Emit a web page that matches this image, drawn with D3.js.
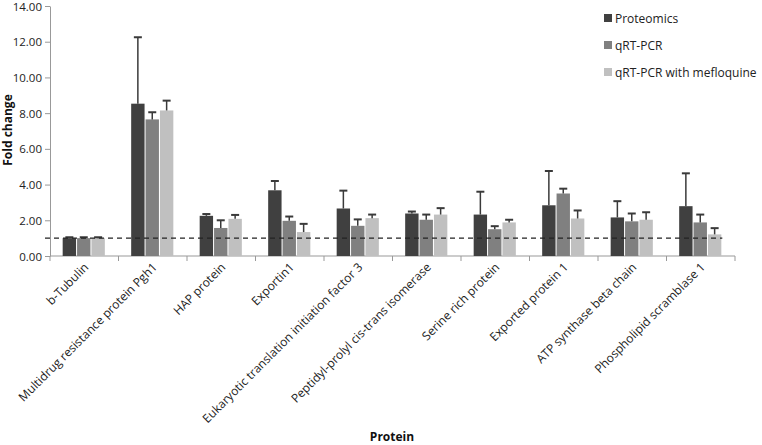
<!DOCTYPE html>
<html><head><meta charset="utf-8">
<script src="https://cdn.jsdelivr.net/npm/d3@7"></script>
<style>body{margin:0;background:#fff}svg{display:block}text{font-family:"Open Sans",sans-serif}</style>
</head><body><svg id="c" width="762" height="445"></svg>
<script>
const categories = ["b-Tubulin","Multidrug resistance protein Pgh1","HAP protein","Exportin1","Eukaryotic translation initiation factor 3","Peptidyl-prolyl cis-trans isomerase","Serine rich protein","Exported protein 1","ATP synthase beta chain","Phospholipid scramblase 1"];
const seriesNames = ["Proteomics","qRT-PCR","qRT-PCR with mefloquine"];
const proteomics = [1.00,8.53,2.25,3.68,2.66,2.38,2.32,2.84,2.16,2.79];
const proteomicsErr = [0.05,3.72,0.10,0.52,1.00,0.11,1.28,1.92,0.91,1.84];
const qrtpcr = [1.00,7.65,1.57,1.97,1.69,2.03,1.50,3.50,1.94,1.88];
const qrtpcrErr = [0.05,0.40,0.43,0.24,0.36,0.29,0.17,0.27,0.44,0.44];
const mefloquine = [1.00,8.15,2.08,1.34,2.12,2.32,1.88,2.10,2.03,1.21];
const mefloquineErr = [0.05,0.55,0.22,0.46,0.20,0.36,0.15,0.45,0.42,0.35];
const yTicks = [0,2,4,6,8,10,12,14];
const colors = ["#404040","#808080","#c0c0c0"];

const svg = d3.select("#c");
const x0 = 50, x1 = 735, yb = 256, yt = 6;
const x = d3.scaleBand().domain(categories).range([x0,x1]).paddingInner(0.37).paddingOuter(0.185);
const xs = d3.scaleBand().domain(seriesNames).range([0,x.bandwidth()]);
const y = d3.scaleLinear().domain([0,14]).range([yb,yt]);
const vals = [proteomics,qrtpcr,mefloquine], errs=[proteomicsErr,qrtpcrErr,mefloquineErr];

// axes
const ya = svg.append("g").attr("transform",`translate(${x0},0)`)
  .call(d3.axisLeft(y).tickValues(yTicks).tickFormat(d3.format(".2f")).tickSize(5).tickSizeOuter(0));
ya.select(".domain").attr("stroke","#999");
ya.selectAll(".tick line").attr("stroke","#999");
ya.selectAll(".tick text").attr("font-size","11.5px").attr("fill","#222").attr("x",-8).attr("dy","0.36em");

const xb = d3.scalePoint().domain(d3.range(categories.length+1)).range([x0,x1]);
const xa = svg.append("g").attr("transform",`translate(0,${yb})`);
xa.append("line").attr("x1",x0).attr("x2",x1).attr("stroke","#999");
xa.selectAll("line.t").data(d3.range(categories.length+1)).join("line").attr("class","t")
  .attr("x1",d=>xb(d)).attr("x2",d=>xb(d)).attr("y1",0).attr("y2",5).attr("stroke","#999");

// bars
const g = svg.append("g");
seriesNames.forEach((s,si)=>{
  categories.forEach((c,ci)=>{
    const bx = x(c)+xs(s), w = xs.bandwidth();
    const v = vals[si][ci], e = errs[si][ci];
    g.append("rect").attr("x",bx).attr("y",y(v)).attr("width",w-1).attr("height",yb-y(v)).attr("fill",colors[si]);
    const cx = bx + (w-1)/2;
    g.append("line").attr("x1",cx).attr("x2",cx).attr("y1",y(v)).attr("y2",y(v+e)).attr("stroke","#3a3a3a").attr("stroke-width",1.5);
    g.append("line").attr("x1",cx-4).attr("x2",cx+4).attr("y1",y(v+e)).attr("y2",y(v+e)).attr("stroke","#3a3a3a").attr("stroke-width",2);
  });
});

// dashed reference line at 1
const lastC = categories[categories.length-1];
svg.append("line").attr("x1",x0-5).attr("x2",x(lastC)+x.bandwidth()).attr("y1",y(1)).attr("y2",y(1))
  .attr("stroke","#222").attr("stroke-width",1.3).attr("stroke-dasharray","5,4");

// category labels
svg.append("g").selectAll("text").data(categories).join("text")
  .attr("transform",d=>`translate(${x(d)+x.bandwidth()/2+5},${yb+12}) rotate(-45)`)
  .attr("text-anchor","end").attr("font-size","12px").attr("fill","#222").text(d=>d);

// axis titles
svg.append("text").attr("transform",`translate(12,130) rotate(-90)`).attr("text-anchor","middle")
  .attr("font-size","12px").attr("font-weight","bold").attr("fill","#111").text("Fold change");
svg.append("text").attr("x",392).attr("y",441).attr("text-anchor","middle")
  .attr("font-size","12px").attr("font-weight","bold").attr("fill","#111").text("Protein");

// legend
const lg = svg.append("g");
seriesNames.forEach((s,i)=>{
  const ly = 18 + i*27;
  lg.append("rect").attr("x",604).attr("y",ly-4).attr("width",8).attr("height",8).attr("fill",colors[i]);
  lg.append("text").attr("x",615).attr("y",ly+4.5).attr("font-size","12px").attr("fill","#222").text(s);
});
</script></body></html>
